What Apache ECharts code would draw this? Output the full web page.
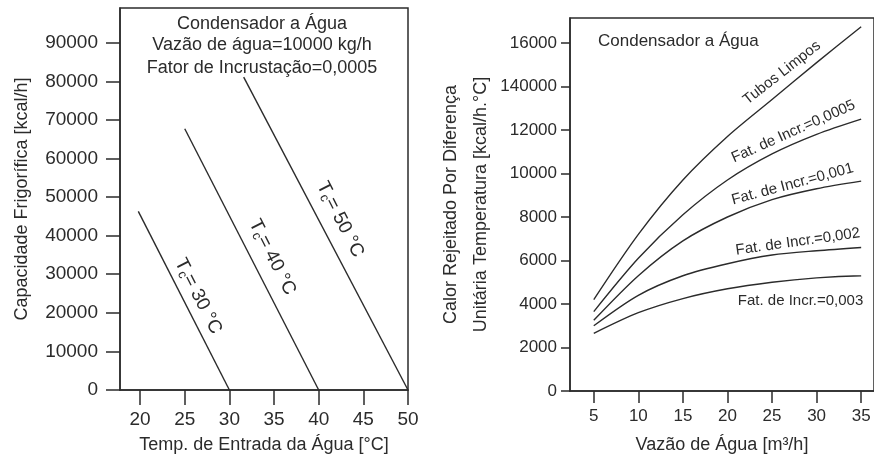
<!DOCTYPE html>
<html lang="pt">
<head>
<meta charset="UTF-8" />
<title>Condensador a Água</title>
<style>
  html, body { margin: 0; padding: 0; background: #fff; }
  #chart { width: 874px; height: 459px; }
</style>
</head>
<body>
<div id="chart"></div>
<script src="https://cdn.jsdelivr.net/npm/echarts@6/dist/echarts.min.js"></script>
<script>
// left chart - capacidade x temperatura de entrada
const tcNames = ["30", "40", "50"];
const tcStartX = [19.8, 25.0, 31.6];
const tcStartY = [46300, 67700, 81100];
const tcEndX = [30, 40, 50];
const tcLabelPos = [[26.5, 24300], [34.8, 34400], [42.4, 44200]];
const leftXTicks = [20, 25, 30, 35, 40, 45, 50];
const leftYTicks = [0, 10000, 20000, 30000, 40000, 50000, 60000, 70000, 80000, 90000];

// right chart - calor rejeitado x vazao
const flowX = [5, 10, 15, 20, 25, 30, 35];
const tubosLimpos = [4200, 7200, 9700, 11700, 13400, 15100, 16750];
const fat0005 = [3650, 6100, 8100, 9700, 10900, 11800, 12500];
const fat001 = [3250, 5300, 6900, 8000, 8800, 9300, 9650];
const fat002 = [3000, 4400, 5300, 5850, 6250, 6450, 6600];
const fat003 = [2650, 3600, 4250, 4700, 5000, 5200, 5300];
const curveNames = ["Tubos Limpos", "Fat. de Incr.=0,0005", "Fat. de Incr.=0,001", "Fat. de Incr.=0,002", "Fat. de Incr.=0,003"];
const curveLabelPos = [[26.1, 14630], [27.4, 11930], [27.3, 9510], [27.9, 6860], [28.2, 4160]];
const curveLabelRot = [38, 24, 15, 8, 0];
const rightXTicks = [5, 10, 15, 20, 25, 30, 35];
const rightYTicks = [0, 2000, 4000, 6000, 8000, 10000, 12000, 14000, 16000];
const rightYTickLabels = ["0", "2000", "4000", "6000", "8000", "10000", "12000", "140000", "16000"];

const ink = "#2b2b2b";
const font = "Liberation Sans";
const axisLine = { show: true, lineStyle: { color: ink, width: 1.5 } };

var myChart = echarts.init(document.getElementById("chart"));

const tcSeries = tcNames.map((n, i) => ({
  type: "line",
  xAxisIndex: 0,
  yAxisIndex: 0,
  symbol: "none",
  lineStyle: { color: ink, width: 1.4 },
  data: [[tcStartX[i], tcStartY[i]], [tcEndX[i], 0]],
  markPoint: {
    symbol: "circle",
    symbolSize: 0,
    silent: true,
    data: [{ coord: tcLabelPos[i] }],
    label: {
      show: true,
      position: "inside",
      rotate: -63,
      formatter: "{t|T}{s|c}{t|= " + n + " °C}",
      rich: {
        t: { fontSize: 19, fontFamily: font, color: ink, lineHeight: 22 },
        s: { fontSize: 13, fontFamily: font, color: ink, lineHeight: 16, verticalAlign: "bottom" },
      },
    },
  },
}));

const curves = [tubosLimpos, fat0005, fat001, fat002, fat003];
const curveSeries = curves.map((vals, i) => ({
  type: "line",
  xAxisIndex: 1,
  yAxisIndex: 1,
  symbol: "none",
  smooth: 0.3,
  lineStyle: { color: ink, width: 1.4 },
  data: flowX.map((x, k) => [x, vals[k]]),
  markPoint: {
    symbol: "circle",
    symbolSize: 0,
    silent: true,
    data: [{ coord: curveLabelPos[i] }],
    label: {
      show: true,
      position: "inside",
      rotate: curveLabelRot[i],
      formatter: curveNames[i],
      fontSize: 15,
      fontFamily: font,
      color: ink,
    },
  },
}));

const option = {
  backgroundColor: "#fff",
  animation: false,
  textStyle: { fontFamily: font, color: ink },
  grid: [
    { left: 120, top: 8, width: 288, height: 383, show: true, borderColor: ink, borderWidth: 1.5 },
    { left: 570, top: 18, width: 307, height: 375, show: true, borderColor: ink, borderWidth: 1.5 },
  ],
  xAxis: [
    {
      type: "value",
      gridIndex: 0,
      min: 17.75,
      max: 50,
      axisLine: axisLine,
      axisTick: { customValues: leftXTicks, length: 15, lineStyle: { color: ink, width: 1.5 } },
      axisLabel: { customValues: leftXTicks, margin: 20, fontSize: 19, color: ink },
      splitLine: { show: false },
      name: "Temp. de Entrada da Água [°C]",
      nameLocation: "middle",
      nameGap: 46,
      nameTextStyle: { fontSize: 18, color: ink },
    },
    {
      type: "value",
      gridIndex: 1,
      min: 2.333,
      max: 36.44,
      axisLine: axisLine,
      axisTick: { customValues: rightXTicks, length: 12, lineStyle: { color: ink, width: 1.5 } },
      axisLabel: { customValues: rightXTicks, margin: 17, fontSize: 17, color: ink },
      splitLine: { show: false },
      name: "Vazão de Água [m³/h]",
      nameLocation: "middle",
      nameGap: 45,
      nameTextStyle: { fontSize: 18, color: ink },
    },
  ],
  yAxis: [
    {
      type: "value",
      gridIndex: 0,
      min: 0,
      max: 99000,
      axisLine: axisLine,
      axisTick: { customValues: leftYTicks, length: 14, lineStyle: { color: ink, width: 1.5 } },
      axisLabel: { customValues: leftYTicks, margin: 22, fontSize: 19, color: ink, formatter: (v) => String(v) },
      splitLine: { show: false },
      name: "Capacidade Frigorífica [kcal/h]",
      nameLocation: "middle",
      nameGap: 89,
      nameRotate: 90,
      nameTextStyle: { fontSize: 18, color: ink },
    },
    {
      type: "value",
      gridIndex: 1,
      min: 0,
      max: 17150,
      axisLine: axisLine,
      axisTick: { customValues: rightYTicks, length: 9, lineStyle: { color: ink, width: 1.5 } },
      axisLabel: {
        customValues: rightYTicks,
        margin: 13,
        fontSize: 17,
        color: ink,
        formatter: (v) => rightYTickLabels[rightYTicks.indexOf(v)],
      },
      splitLine: { show: false },
      name: "Calor Rejeitado Por Diferença\nUnitária Temperatura [kcal/h.°C]",
      nameLocation: "middle",
      nameGap: 73,
      nameRotate: 90,
      nameTextStyle: { fontSize: 18, color: ink, lineHeight: 30 },
    },
  ],
  graphic: [
    { type: "text", x: 262, y: 24, style: { text: "Condensador a Água", font: "18px " + font, fill: ink, align: "center", verticalAlign: "middle" } },
    { type: "text", x: 262, y: 45, style: { text: "Vazão de água=10000 kg/h", font: "18px " + font, fill: ink, align: "center", verticalAlign: "middle" } },
    { type: "text", x: 262, y: 68, style: { text: "Fator de Incrustação=0,0005", font: "18px " + font, fill: ink, align: "center", verticalAlign: "middle" } },
    { type: "text", x: 598, y: 41, style: { text: "Condensador a Água", font: "17px " + font, fill: ink, align: "left", verticalAlign: "middle" } },
  ],
  series: tcSeries.concat(curveSeries),
};

myChart.setOption(option);
</script>
</body>
</html>
